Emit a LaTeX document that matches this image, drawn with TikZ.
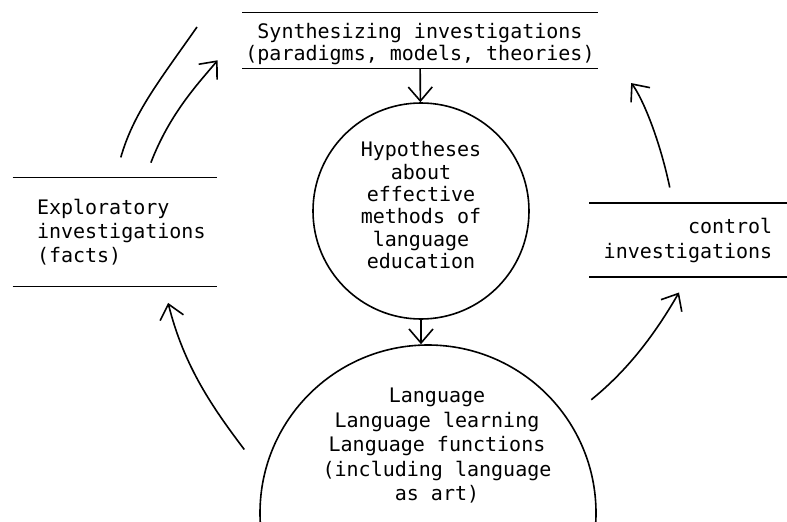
\documentclass[tikz,border=0pt]{standalone}
\usepackage{fontspec}
\setmonofont{DejaVu Sans Mono}
\usetikzlibrary{arrows.meta}

\begin{document}
\begin{tikzpicture}[x=0.5pt, y=0.5pt,
    investigation/.style ={font=\ttfamily\fontsize{10}{#1}\selectfont, inner sep=0pt},
    investigation/.default=11.5,
    circled/.style ={circle, draw, line width=0.8pt, inner sep=0pt, align=center,
      font=\ttfamily\fontsize{10}{11.2}\selectfont},
    rule/.style ={line width=0.8pt},
    flow/.style ={line width=0.8pt, -{Straight Barb[length=7pt, width=12pt]}}]
   \useasboundingbox (0,0) rectangle (787,521);
   \clip (0,0) rectangle (787,521);
   \node[investigation=11, minimum width=177.5pt, minimum height=27.5pt, align=center] (S) at (420,480.5)
     {\rule{0pt}{11.6pt}Synthesizing investigations\\(paradigms, models, theories)};
   \node[investigation=12, minimum width=102pt, minimum height=54pt, text width=78pt, align=left] (E) at (115,289)
     {Exploratory\\investigations\\(facts)};
   \node[investigation=12.5, minimum width=98.5pt, minimum height=36.5pt, align=right] (C) at (688,281)
     {control\\investigations};
   \node[circled, minimum size=108pt] (H) at (421,310)
     {Hypotheses\\about\\effective\\methods of\\language\\education\rule[-6pt]{0pt}{6pt}};
   \node[circled, minimum size=168pt] (L) at (428,8) {};
   \node[investigation=12.25, align=center] (T) at (437,75)
     {Language\\Language learning\\Language functions\\(including language\\as art)};
   \coordinate (F) at (197,494);
   \draw[rule] (S.north west) -- (S.north east) (S.south west) -- (S.south east);
   \draw[rule] (E.north west) -- (E.north east) (E.south west) -- (E.south east);
   \draw[rule] (C.north west) -- (C.north east) (C.south west) -- (C.south east);
   \draw[flow] (S) -- (H);
   \draw[flow] (H.south) -- (H.south |- L.north);
   \draw[flow, shorten <=16pt, shorten >=8.5pt] (L.167) to[out=127, in=-76] (E.-48);
   \draw[line width=0.8pt, shorten <=10.5pt] (E.north) to[out=74, in=235] (F);
   \draw[flow, shorten <=8pt, shorten >=19pt] (E.61) to[out=69, in=230] (S.177);
   \draw[flow, shorten <=15pt, shorten >=9pt] (L.34) to[out=39, in=240] (C.south);
   \draw[flow, shorten <=8pt, shorten >=27pt] (C.112) to[out=102, in=-52] (S.east);
\end{tikzpicture}
\end{document}
